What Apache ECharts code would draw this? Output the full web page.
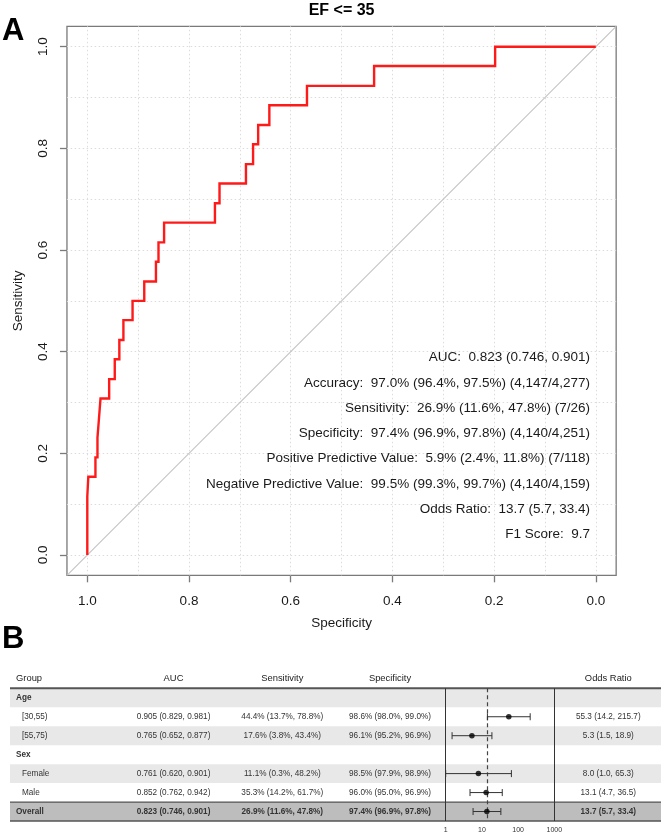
<!DOCTYPE html>
<html><head><meta charset="utf-8">
<script src="https://cdn.jsdelivr.net/npm/echarts@6.0.0/dist/echarts.min.js"></script>
<style>html,body{margin:0;padding:0;background:#fff}#c{width:664px;height:835px}</style>
</head><body><div id="c"></div>
<script>
// ---------- Panel A data (ROC curve corner points) ----------
const rocSpecificity = [1.000,1.000,0.998,0.998,0.984,0.984,0.980,0.980,0.977,0.977,0.974,0.974,0.957,0.957,0.946,0.946,0.937,0.937,0.929,0.929,0.911,0.911,0.888,0.888,0.865,0.865,0.860,0.860,0.849,0.849,0.749,0.749,0.740,0.740,0.688,0.688,0.674,0.674,0.664,0.664,0.642,0.642,0.568,0.568,0.436,0.436,0.198,0.198,0.000];
const rocSensitivity = [0.000,0.115,0.115,0.154,0.154,0.192,0.192,0.231,0.231,0.269,0.269,0.308,0.308,0.346,0.346,0.385,0.385,0.423,0.423,0.462,0.462,0.500,0.500,0.538,0.538,0.577,0.577,0.615,0.615,0.654,0.654,0.692,0.692,0.731,0.731,0.769,0.769,0.808,0.808,0.846,0.846,0.885,0.885,0.923,0.923,0.962,0.962,1.000,1.000];
const rocTickValues = [0, 0.2, 0.4, 0.6, 0.8, 1.0];
const rocGridValues = [0, 0.1, 0.2, 0.3, 0.4, 0.5, 0.6, 0.7, 0.8, 0.9, 1.0];
const rocTitle = 'EF <= 35';
const statLines = [
  'AUC:  0.823 (0.746, 0.901)',
  'Accuracy:  97.0% (96.4%, 97.5%) (4,147/4,277)',
  'Sensitivity:  26.9% (11.6%, 47.8%) (7/26)',
  'Specificity:  97.4% (96.9%, 97.8%) (4,140/4,251)',
  'Positive Predictive Value:  5.9% (2.4%, 11.8%) (7/118)',
  'Negative Predictive Value:  99.5% (99.3%, 99.7%) (4,140/4,159)',
  'Odds Ratio:  13.7 (5.7, 33.4)',
  'F1 Score:  9.7'
];

// ---------- Panel B data (subgroup table + forest plot) ----------
const tableHeaders = ['Group', 'AUC', 'Sensitivity', 'Specificity', 'Odds Ratio'];
const groupLabels = ['Age', '[30,55)', '[55,75)', 'Sex', 'Female', 'Male', 'Overall'];
const rowKinds   = ['group', 'sub', 'sub', 'group', 'sub', 'sub', 'overall'];
const aucText  = ['', '0.905 (0.829, 0.981)', '0.765 (0.652, 0.877)', '', '0.761 (0.620, 0.901)', '0.852 (0.762, 0.942)', '0.823 (0.746, 0.901)'];
const sensText = ['', '44.4% (13.7%, 78.8%)', '17.6% (3.8%, 43.4%)', '', '11.1% (0.3%, 48.2%)', '35.3% (14.2%, 61.7%)', '26.9% (11.6%, 47.8%)'];
const specText = ['', '98.6% (98.0%, 99.0%)', '96.1% (95.2%, 96.9%)', '', '98.5% (97.9%, 98.9%)', '96.0% (95.0%, 96.9%)', '97.4% (96.9%, 97.8%)'];
const orEst = [null, 55.3, 5.3, null, 8.0, 13.1, 13.7];
const orLo  = [null, 14.2, 1.5, null, 1.0, 4.7, 5.7];
const orHi  = [null, 215.7, 18.9, null, 65.3, 36.5, 33.4];
const forestTicks = [1, 10, 100, 1000];

// ---------- layout ----------
const FONT = '"Liberation Sans", Arial, Helvetica, sans-serif';
const G0 = { left: 66.96, top: 26.4, width: 549.2, height: 548.9 };
const G1 = { left: 445.7, top: 688.3, width: 108.6, height: 132.7 };
const TABLE_L = 10, TABLE_R = 661;
const rowH = G1.height / groupLabels.length;
const colAUC = 173.5, colSens = 282.3, colSpec = 390, colOR = 608.3;

const chart = echarts.init(document.getElementById('c'));

const rocData = rocSpecificity.map((s, i) => [s, rocSensitivity[i]]);
const xMin = -0.04, xMax = 1.04;
const diagData = [[xMax, 1 - xMax], [xMin, 1 - xMin]];

const graphic = [];
graphic.push({ type: 'text', x: 2, y: 31.5, z: 10, style: { text: 'A', font: 'bold 31px ' + FONT, fill: '#000', align: 'left', verticalAlign: 'middle' } });
graphic.push({ type: 'text', x: 2, y: 639.5, z: 10, style: { text: 'B', font: 'bold 31px ' + FONT, fill: '#000', align: 'left', verticalAlign: 'middle' } });
graphic.push({ type: 'text', x: G0.left + G0.width / 2, y: 10.5, z: 10, style: { text: rocTitle, font: 'bold 16px ' + FONT, fill: '#000', align: 'center', verticalAlign: 'middle' } });
statLines.forEach((t, i) => {
  graphic.push({ type: 'text', x: 590, y: 357.7 + i * 25.23, z: 10, style: { text: t, font: '13.5px ' + FONT, fill: '#1a1a1a', align: 'right', verticalAlign: 'middle' } });
});

rowKinds.forEach((k, i) => {
  let fill = null;
  if (k === 'overall') fill = '#bdbdbd';
  else if (i % 2 === 0) fill = '#e8e8e8';
  if (fill) graphic.push({ type: 'rect', z: 0, shape: { x: TABLE_L, y: G1.top + i * rowH, width: TABLE_R - TABLE_L, height: rowH }, style: { fill } });
});
graphic.push({ type: 'line', z: 5, shape: { x1: TABLE_L, y1: G1.top, x2: TABLE_R, y2: G1.top }, style: { stroke: '#555', lineWidth: 2 } });
graphic.push({ type: 'line', z: 5, shape: { x1: TABLE_L, y1: G1.top + 6 * rowH, x2: TABLE_R, y2: G1.top + 6 * rowH }, style: { stroke: '#555', lineWidth: 1.3 } });
graphic.push({ type: 'line', z: 5, shape: { x1: TABLE_L, y1: G1.top + 7 * rowH, x2: TABLE_R, y2: G1.top + 7 * rowH }, style: { stroke: '#555', lineWidth: 1.3 } });
const headerY = 678.7;
const hdrFont = '9.4px ' + FONT;
graphic.push({ type: 'text', x: 16, y: headerY, z: 10, style: { text: tableHeaders[0], font: hdrFont, fill: '#222', align: 'left', verticalAlign: 'middle' } });
[[tableHeaders[1], colAUC], [tableHeaders[2], colSens], [tableHeaders[3], colSpec], [tableHeaders[4], colOR]].forEach(([t, x]) => {
  graphic.push({ type: 'text', x, y: headerY, z: 10, style: { text: t, font: hdrFont, fill: '#222', align: 'center', verticalAlign: 'middle' } });
});
groupLabels.forEach((g, i) => {
  const y = G1.top + (i + 0.5) * rowH;
  const bold = rowKinds[i] !== 'sub';
  const f = (bold ? 'bold ' : '') + '8.2px ' + FONT;
  graphic.push({ type: 'text', x: rowKinds[i] === 'sub' ? 22 : 16, y, z: 10, style: { text: g, font: f, fill: '#333', align: 'left', verticalAlign: 'middle' } });
  const orStr = orEst[i] == null ? '' : `${orEst[i].toFixed(1)} (${orLo[i].toFixed(1)}, ${orHi[i].toFixed(1)})`;
  [[aucText[i], colAUC], [sensText[i], colSens], [specText[i], colSpec], [orStr, colOR]].forEach(([t, x]) => {
    if (t) graphic.push({ type: 'text', x, y, z: 10, style: { text: t, font: f, fill: '#333', align: 'center', verticalAlign: 'middle' } });
  });
});

const forestBars = [], forestPts = [];
orEst.forEach((e, i) => {
  if (e != null) { forestBars.push([orLo[i], orHi[i], i]); forestPts.push([e, i]); }
});

const option = {
  animation: false,
  backgroundColor: '#fff',
  textStyle: { fontFamily: FONT },
  graphic: graphic,
  grid: [
    { left: G0.left, top: G0.top, width: G0.width, height: G0.height, show: true, borderColor: '#7a7a7a', borderWidth: 1.3, backgroundColor: 'transparent', containLabel: false },
    { left: G1.left, top: G1.top, width: G1.width, height: G1.height, containLabel: false }
  ],
  xAxis: [
    {
      gridIndex: 0, type: 'value', inverse: true, min: xMin, max: xMax,
      axisLine: { show: false, onZero: false },
      axisTick: { show: true, customValues: rocTickValues, length: 7, lineStyle: { color: '#7a7a7a', width: 1.3 } },
      axisLabel: { customValues: rocTickValues, formatter: v => v.toFixed(1), fontSize: 13.5, color: '#1a1a1a', margin: 19, fontFamily: FONT },
      splitLine: { show: false },
      name: 'Specificity', nameLocation: 'middle', nameGap: 41,
      nameTextStyle: { fontSize: 13.5, color: '#1a1a1a', fontFamily: FONT }
    },
    {
      gridIndex: 1, type: 'log', logBase: 10, min: 1, max: 1000,
      axisLine: { show: false }, axisTick: { show: false }, minorTick: { show: false },
      axisLabel: { fontSize: 7, color: '#333', margin: 6, fontFamily: FONT, formatter: v => String(Math.round(v)) },
      splitLine: { show: false }
    }
  ],
  yAxis: [
    {
      gridIndex: 0, type: 'value', min: xMin, max: xMax,
      axisLine: { show: false, onZero: false },
      axisTick: { show: true, customValues: rocTickValues, length: 7, lineStyle: { color: '#7a7a7a', width: 1.3 } },
      axisLabel: { customValues: rocTickValues, formatter: v => v.toFixed(1), fontSize: 13.5, color: '#1a1a1a', margin: 17, rotate: 90, fontFamily: FONT },
      splitLine: { show: false },
      name: 'Sensitivity', nameLocation: 'middle', nameGap: 42, nameRotate: 90,
      nameTextStyle: { fontSize: 13.5, color: '#1a1a1a', fontFamily: FONT }
    },
    {
      gridIndex: 1, type: 'category', data: groupLabels, inverse: true, show: false
    }
  ],
  series: [
    {
      type: 'line', xAxisIndex: 0, yAxisIndex: 0, data: diagData, symbol: 'none', z: 2,
      lineStyle: { color: '#c4c4c4', width: 1.1 }, silent: true,
      markLine: {
        z: 1, silent: true, symbol: ['none', 'none'], label: { show: false },
        lineStyle: { type: [1.5, 2.5], color: '#dcdcdc', width: 1 },
        data: rocGridValues.map(v => ({ xAxis: v })).concat(rocGridValues.map(v => ({ yAxis: v })))
      }
    },
    {
      type: 'line', xAxisIndex: 0, yAxisIndex: 0, data: rocData, symbol: 'none', z: 4,
      lineStyle: { color: '#ff1a1a', width: 2.4, join: 'miter' }, silent: true
    },
    {
      type: 'custom', xAxisIndex: 1, yAxisIndex: 1, data: forestBars, z: 6, silent: true,
      encode: { x: [0, 1], y: 2 },
      renderItem: (params, api) => {
        const y = api.value(2);
        const p1 = api.coord([api.value(0), y]);
        const p2 = api.coord([api.value(1), y]);
        const cap = 3.5;
        const st = { stroke: '#333', lineWidth: 1 };
        return { type: 'group', children: [
          { type: 'line', shape: { x1: p1[0], y1: p1[1], x2: p2[0], y2: p2[1] }, style: st },
          { type: 'line', shape: { x1: p1[0], y1: p1[1] - cap, x2: p1[0], y2: p1[1] + cap }, style: st },
          { type: 'line', shape: { x1: p2[0], y1: p2[1] - cap, x2: p2[0], y2: p2[1] + cap }, style: st }
        ] };
      }
    },
    {
      type: 'scatter', xAxisIndex: 1, yAxisIndex: 1, data: forestPts, symbol: 'circle', symbolSize: 5.5, z: 7, silent: true,
      itemStyle: { color: '#000' },
      markLine: {
        silent: true, symbol: ['none', 'none'], label: { show: false },
        data: [
          { xAxis: forestTicks[0], lineStyle: { type: 'solid', color: '#333', width: 1 } },
          { xAxis: forestTicks[forestTicks.length - 1], lineStyle: { type: 'solid', color: '#333', width: 1 } },
          { xAxis: orEst[orEst.length - 1], lineStyle: { type: [4, 3], color: '#444', width: 1.2 } }
        ]
      }
    }
  ]
};
chart.setOption(option);
</script>
</body></html>
